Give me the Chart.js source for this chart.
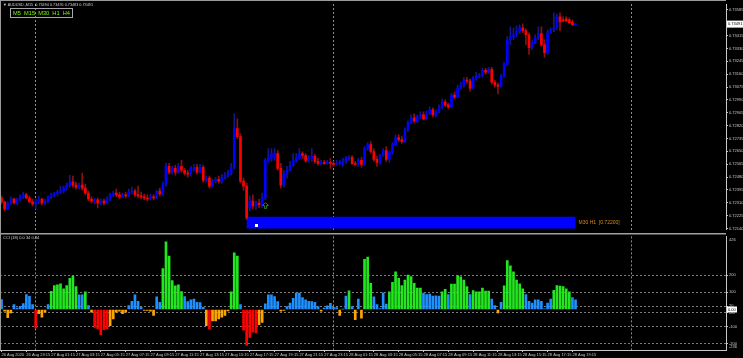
<!DOCTYPE html>
<html>
<head>
<meta charset="utf-8">
<script src="https://cdn.jsdelivr.net/npm/chart.js@4.4.0/dist/chart.umd.min.js"></script>
<style>
  html, body { margin: 0; padding: 0; background: #000; overflow: hidden; }
  #wrap { position: relative; width: 743px; height: 358px; background: #000; }
  #priceChart { position: absolute; left: 0; top: 0; }
  #cciChart { position: absolute; left: 0; top: 233px; }
</style>
</head>
<body>
<div id="wrap">
  <canvas id="priceChart" width="743" height="233"></canvas>
  <canvas id="cciChart" width="743" height="125"></canvas>
</div>
<script>
// AUDUSD M15 - precos em pontos (1e-5), uma vela por posicao
const opensPts = [
  72342,72316,72270,72309,72335,72309,72335,72349,72362,72342,
  72316,72303,72322,72335,72309,72322,72349,72362,72368,72381,
  72388,72407,72427,72447,72427,72414,72427,72407,72375,72335,
  72322,72329,72309,72322,72309,72335,72362,72375,72362,72349,
  72362,72355,72381,72388,72362,72355,72349,72342,72335,72349,
  72342,72388,72368,72434,72551,72512,72538,72512,72551,72525,
  72506,72499,72538,72545,72512,72545,72460,72473,72420,72453,
  72466,72453,72479,72492,72506,72545,72800,72748,72453,72420,
  72277,72322,72290,72309,72296,72342,72591,72604,72617,72636,
  72538,72427,72499,72525,72558,72591,72604,72636,72623,72591,
  72604,72617,72584,72571,72577,72571,72577,72571,72564,72571,
  72564,72584,72604,72610,72571,72564,72591,72564,72669,72695,
  72649,72597,72577,72623,72656,72597,72643,72695,72741,72728,
  72715,72793,72839,72872,72852,72878,72891,72865,72904,72924,
  72891,72911,72937,72976,72957,72944,73022,73009,73068,73088,
  73120,73114,73068,73133,73146,73153,73186,73173,73192,73107,
  73088,73081,73146,73225,73388,73408,73421,73441,73467,73447,
  73421,73336,73369,73401,73428,73356,73303,73434,73454,73467,
  73539,73519,73526,73519,73506,73487
];
const highsPts = [
  72355,72322,72316,72349,72342,72342,72362,72381,72375,72355,
  72335,72335,72355,72342,72335,72355,72375,72381,72394,72420,
  72420,72440,72492,72486,72447,72440,72506,72434,72388,72349,
  72342,72342,72335,72335,72349,72375,72388,72401,72381,72375,
  72381,72401,72414,72401,72420,72381,72368,72362,72368,72362,
  72394,72407,72447,72571,72571,72551,72558,72571,72591,72538,
  72525,72551,72564,72564,72564,72558,72486,72486,72466,72479,
  72486,72499,72512,72525,72571,72898,72865,72767,72473,72440,
  72355,72362,72322,72335,72375,72604,72669,72669,72669,72656,
  72571,72525,72551,72584,72636,72636,72669,72649,72636,72623,
  72669,72630,72604,72591,72591,72591,72604,72584,72591,72591,
  72604,72617,72623,72623,72584,72604,72610,72682,72708,72715,
  72669,72617,72630,72669,72682,72656,72708,72761,72761,72748,
  72806,72852,72891,72898,72891,72911,72911,72918,72944,72937,
  72924,72957,72996,72990,72970,73035,73042,73088,73107,73140,
  73140,73127,73146,73173,73166,73199,73199,73205,73205,73120,
  73101,73160,73238,73408,73473,73467,73480,73487,73493,73460,
  73434,73382,73421,73473,73473,73388,73454,73467,73565,73558,
  73565,73539,73539,73532,73519,73495
];
const lowsPts = [
  72303,72257,72264,72296,72303,72296,72322,72335,72335,72309,
  72290,72270,72303,72296,72296,72309,72335,72349,72355,72368,
  72375,72394,72414,72414,72401,72401,72394,72362,72322,72309,
  72303,72277,72296,72296,72303,72322,72349,72349,72335,72342,
  72342,72349,72368,72349,72342,72335,72329,72322,72329,72329,
  72335,72355,72355,72420,72499,72499,72492,72506,72512,72492,
  72479,72486,72519,72499,72506,72447,72447,72407,72414,72440,
  72440,72440,72466,72479,72492,72532,72734,72440,72394,72198,
  72257,72270,72264,72277,72277,72329,72577,72584,72591,72525,
  72407,72414,72473,72519,72551,72577,72597,72604,72577,72577,
  72584,72571,72558,72558,72564,72564,72538,72551,72558,72558,
  72551,72571,72591,72564,72558,72551,72545,72558,72656,72636,
  72584,72551,72564,72617,72584,72577,72630,72689,72715,72702,
  72708,72780,72833,72839,72839,72865,72859,72859,72891,72878,
  72878,72904,72931,72944,72931,72937,72996,73003,73061,73075,
  73101,73048,73061,73120,73133,73140,73160,73166,73094,73075,
  73029,73075,73140,73218,73356,73388,73408,73428,73434,73356,
  73290,73323,73362,73388,73343,73271,73290,73428,73441,73454,
  73447,73506,73506,73493,73480,73483
];
const closesPts = [
  72316,72270,72309,72335,72309,72335,72349,72362,72342,72316,
  72303,72322,72335,72309,72322,72349,72362,72368,72381,72388,
  72407,72427,72447,72427,72414,72427,72407,72375,72335,72322,
  72329,72309,72322,72309,72335,72362,72375,72362,72349,72362,
  72355,72381,72388,72362,72355,72349,72342,72335,72349,72342,
  72388,72368,72434,72551,72512,72538,72512,72551,72525,72506,
  72499,72538,72545,72512,72545,72460,72473,72420,72453,72466,
  72453,72479,72492,72506,72545,72800,72748,72453,72420,72211,
  72322,72290,72309,72296,72342,72591,72604,72630,72636,72538,
  72427,72499,72525,72558,72591,72604,72636,72623,72591,72604,
  72617,72584,72571,72577,72571,72577,72571,72564,72571,72577,
  72584,72604,72610,72571,72564,72591,72564,72669,72695,72649,
  72597,72577,72623,72656,72597,72643,72695,72741,72728,72715,
  72793,72839,72872,72852,72878,72891,72865,72904,72924,72891,
  72911,72937,72976,72957,72944,73022,73009,73068,73088,73120,
  73114,73068,73133,73146,73153,73186,73173,73192,73107,73088,
  73081,73146,73225,73388,73408,73421,73441,73467,73447,73421,
  73336,73369,73401,73428,73356,73303,73434,73454,73467,73539,
  73506,73513,73513,73500,73487,73491
];

// CCI(18)
const cciValues = [
  58,-10,-48,-20,28,9,19,35,87,77,
  28,-108,-25,-44,-15,28,106,140,144,150,
  121,140,182,195,134,86,86,103,23,-15,
  -104,-113,-146,-117,-113,-94,-55,-15,-10,-25,
  -15,23,48,86,48,13,-5,-6,-9,-34,
  74,42,239,395,311,169,138,144,104,76,
  46,57,61,42,40,12,-94,-113,-67,-67,
  -55,-45,-34,-8,103,330,311,28,-120,-209,
  -163,-132,-136,-89,-76,33,86,86,76,46,
  -9,-5,17,38,65,95,95,70,57,48,
  46,42,17,-9,8,21,36,13,11,-34,
  2,78,109,17,-59,61,-51,293,306,153,
  74,28,5,97,32,103,159,220,182,140,
  172,201,192,153,125,125,96,87,90,78,
  80,78,103,118,87,148,148,197,191,172,
  134,87,110,103,103,125,107,107,61,23,
  -20,42,138,285,254,220,172,150,121,87,
  48,38,57,57,48,4,38,61,111,140,
  136,133,121,103,70,57
];

const timeTicks = [
  '26 Aug 2020', '26 Aug 23:15', '27 Aug 01:15', '27 Aug 03:15', '27 Aug 05:15', '27 Aug 07:15',
  '27 Aug 09:15', '27 Aug 11:15', '27 Aug 13:15', '27 Aug 15:15', '27 Aug 17:15', '27 Aug 19:15',
  '27 Aug 21:15', '27 Aug 23:15', '28 Aug 01:15', '28 Aug 03:15', '28 Aug 05:15', '28 Aug 07:15',
  '28 Aug 09:15', '28 Aug 11:15', '28 Aug 13:15', '28 Aug 15:15', '28 Aug 17:15', '28 Aug 19:15'
];
const priceTicks = [0.73585, 0.73415, 0.73330, 0.73245, 0.73160, 0.73075, 0.72990, 0.72905, 0.72820,
  0.72735, 0.72650, 0.72565, 0.72480, 0.72395, 0.72310, 0.72225, 0.72140];
const cciLevels = [200, 100, 20, -20, -100, -200];
const cciMax = 426, cciMin = -236;
const priceMax = 0.73624, priceMin = 0.72133;
const daySeparators = [11, 107, 203];   // barras das 00:00
const totalSlots = 234;                 // barras + espaco livre a direita

// objetos desenhados no grafico
const zoneStartBar = 79, zoneEndBar = 185, zoneTop = 0.72218, zoneBottom = 0.72140;
const zoneLabel = 'M30 H1  [0.72200]';
const markerBar = 82, markerPrice = 0.72165;
const arrowBar = 85, arrowPrice = 0.72296;
const chartTitle = 'AUDUSD.,M15  0.73494 0.73495 0.73483 0.73491';
const cciTitle = 'CCI (18) 0.0 34 0.34';
const tfButtons = 'M5  M15  M30  H1  H4';

const opens = opensPts.map(p => p / 1e5);
const highs = highsPts.map(p => p / 1e5);
const lows = lowsPts.map(p => p / 1e5);
const closes = closesPts.map(p => p / 1e5);
const slots = Array.from({ length: totalSlots }, (_, i) => i);
const isUp = closes.map((c, i) => c >= opens[i]);

const FONT = '"Liberation Sans", Arial, sans-serif';
const AXIS_COLOR = '#c8c8c8';

const priceDecor = {
  id: 'priceDecor',
  beforeDatasetsDraw(chart) {
    const { ctx, scales: { x, y } } = chart;
    const x0 = x.getPixelForValue(zoneStartBar), x1 = x.getPixelForValue(zoneEndBar);
    const y0 = y.getPixelForValue(zoneTop), y1 = y.getPixelForValue(zoneBottom);
    ctx.save();
    ctx.fillStyle = '#0000ff';
    ctx.fillRect(x0, y0, x1 - x0, y1 - y0);
    ctx.fillStyle = '#ffffff';
    const mx = x.getPixelForValue(markerBar), my = y.getPixelForValue(markerPrice);
    ctx.fillRect(Math.round(mx) - 1, Math.round(my) - 1, 3, 3);
    ctx.fillStyle = '#d88a1c';
    ctx.font = '5px ' + FONT;
    ctx.textBaseline = 'middle';
    ctx.fillText(zoneLabel, x1 + 3, y.getPixelForValue(0.72180));
    ctx.restore();
  },
  afterDraw(chart) {
    const { ctx, chartArea: a, scales: { x, y } } = chart;
    ctx.save();
    // seta de sinal
    const ax = Math.round(x.getPixelForValue(arrowBar)) + 0.5, ay = Math.round(y.getPixelForValue(arrowPrice)) + 0.5;
    ctx.strokeStyle = '#1f7a1f';
    ctx.lineWidth = 1;
    ctx.beginPath();
    ctx.moveTo(ax, ay - 3); ctx.lineTo(ax + 3, ay); ctx.lineTo(ax + 1, ay); ctx.lineTo(ax + 1, ay + 3);
    ctx.lineTo(ax - 1, ay + 3); ctx.lineTo(ax - 1, ay); ctx.lineTo(ax - 3, ay); ctx.closePath();
    ctx.stroke();
    // bordas da janela
    ctx.strokeStyle = '#9a9a9a';
    ctx.beginPath();
    ctx.moveTo(0, 0.5); ctx.lineTo(a.right, 0.5);
    ctx.moveTo(0.5, 0); ctx.lineTo(0.5, chart.height);
    ctx.stroke();
    // titulo
    ctx.fillStyle = '#d0d0d0';
    ctx.font = '4px ' + FONT;
    ctx.textBaseline = 'middle';
    ctx.fillText('\u25BC ' + chartTitle, 3, 5, 90);
    // caixa de timeframes
    ctx.strokeStyle = '#a8a8a8';
    ctx.strokeRect(10.5, 8.5, 62, 9);
    ctx.fillStyle = '#7cfc00';
    ctx.font = '6px ' + FONT;
    ctx.fillText(tfButtons, 13, 13.2, 57);
    // preco atual
    const last = closes[closes.length - 1];
    const py = y.getPixelForValue(last);
    ctx.fillStyle = '#ffffff';
    ctx.fillRect(a.right + 1, py - 3.5, 17, 7);
    ctx.fillStyle = '#000000';
    ctx.font = '4px ' + FONT;
    ctx.fillText(last.toFixed(5), a.right + 2, py);
    ctx.restore();
  }
};

new Chart(document.getElementById('priceChart'), {
  type: 'bar',
  data: {
    labels: slots,
    datasets: [
      {
        data: lows.map((l, i) => [l, highs[i]]),
        backgroundColor: isUp.map(u => u ? '#16168c' : '#8c1010'),
        barThickness: 1,
        grouped: false,
        order: 2
      },
      {
        data: opens.map((o, i) => [o, closes[i]]),
        backgroundColor: isUp.map(u => u ? '#0000ff' : '#ff0000'),
        barThickness: 2,
        minBarLength: 1,
        grouped: false,
        order: 1
      }
    ]
  },
  options: {
    responsive: false,
    animation: false,
    devicePixelRatio: 1,
    layout: { padding: { top: 4, bottom: 1, left: 0, right: 0 } },
    plugins: { legend: { display: false }, tooltip: { enabled: false } },
    scales: {
      x: {
        offset: true,
        ticks: { display: false, autoSkip: false },
        grid: {
          offset: false,
          drawTicks: false,
          color: ctx => daySeparators.includes(ctx.index) ? '#8c8c8c' : 'transparent'
        },
        border: { display: false, dash: [2, 2] },
        afterFit: s => { s.height = 0; }
      },
      y: {
        position: 'right',
        min: priceMin,
        max: priceMax,
        afterBuildTicks: s => { s.ticks = priceTicks.map(v => ({ value: v })); },
        ticks: {
          color: AXIS_COLOR,
          font: { size: 4, family: FONT },
          padding: 1,
          callback: v => Number(v).toFixed(5)
        },
        grid: { drawOnChartArea: false, tickLength: 2, tickColor: AXIS_COLOR },
        border: { display: true, color: AXIS_COLOR },
        afterFit: s => { s.width = 17; }
      }
    }
  },
  plugins: [priceDecor]
});

const cciColor = v => v > 100 ? '#22e61e' : v >= 0 ? '#1e90ff' : v >= -100 ? '#ffa500' : '#ff0000';

const cciDecor = {
  id: 'cciDecor',
  afterDraw(chart) {
    const { ctx, chartArea: a, scales: { y } } = chart;
    ctx.save();
    ctx.strokeStyle = '#a0a0a0';
    ctx.lineWidth = 1.5;
    ctx.beginPath(); ctx.moveTo(0, 0.75); ctx.lineTo(a.right, 0.75); ctx.stroke();
    ctx.lineWidth = 1;
    ctx.strokeStyle = '#9a9a9a';
    ctx.beginPath(); ctx.moveTo(0.5, 0); ctx.lineTo(0.5, a.bottom); ctx.stroke();
    ctx.font = '4px ' + FONT;
    ctx.textBaseline = 'middle';
    ctx.fillStyle = '#d0d0d0';
    ctx.fillText(cciTitle, 3, 5);
    ctx.fillStyle = AXIS_COLOR;
    ctx.fillText(String(cciMax), a.right + 3, y.getPixelForValue(cciMax) + 3);
    ctx.fillText(String(cciMin), a.right + 3, y.getPixelForValue(cciMin) - 3);
    const z = y.getPixelForValue(0);
    ctx.fillStyle = '#ffffff';
    ctx.fillRect(a.right + 1, z - 3, 10, 6);
    ctx.fillStyle = '#000000';
    ctx.fillText('0.00', a.right + 2, z);
    ctx.restore();
  }
};

new Chart(document.getElementById('cciChart'), {
  type: 'bar',
  data: {
    labels: slots,
    datasets: [{
      data: cciValues,
      backgroundColor: cciValues.map(cciColor),
      barThickness: 2,
      grouped: false
    }]
  },
  options: {
    responsive: false,
    animation: false,
    devicePixelRatio: 1,
    layout: { padding: { top: 1, bottom: 0, left: 0, right: 0 } },
    plugins: { legend: { display: false }, tooltip: { enabled: false } },
    scales: {
      x: {
        offset: true,
        ticks: {
          autoSkip: false,
          maxRotation: 0,
          minRotation: 0,
          align: 'start',
          padding: 0,
          color: AXIS_COLOR,
          font: { size: 4, family: FONT },
          callback: (v, i) => (i % 8 === 0 && timeTicks[i / 8]) ? timeTicks[i / 8] : ''
        },
        grid: {
          offset: false,
          tickLength: 2,
          color: ctx => daySeparators.includes(ctx.index) ? '#8c8c8c' : 'transparent',
          tickColor: ctx => (ctx.index % 8 === 0 && ctx.index / 8 < timeTicks.length) ? AXIS_COLOR : 'transparent'
        },
        border: { display: true, color: AXIS_COLOR, dash: [2, 2] },
        afterFit: s => { s.height = 8; }
      },
      y: {
        position: 'right',
        min: cciMin,
        max: cciMax,
        afterBuildTicks: s => { s.ticks = [200, 100, 20, 0, -20, -100, -200].map(v => ({ value: v })); },
        ticks: {
          color: AXIS_COLOR,
          font: { size: 4, family: FONT },
          padding: 1,
          callback: v => v === 0 ? '' : String(v)
        },
        grid: {
          tickLength: 2,
          tickColor: AXIS_COLOR,
          color: ctx => cciLevels.includes(ctx.tick.value) ? '#7a7a7a' : 'transparent'
        },
        border: { display: true, color: AXIS_COLOR, dash: [2, 2] },
        afterFit: s => { s.width = 17; }
      }
    }
  },
  plugins: [cciDecor]
});
</script>
</body>
</html>
